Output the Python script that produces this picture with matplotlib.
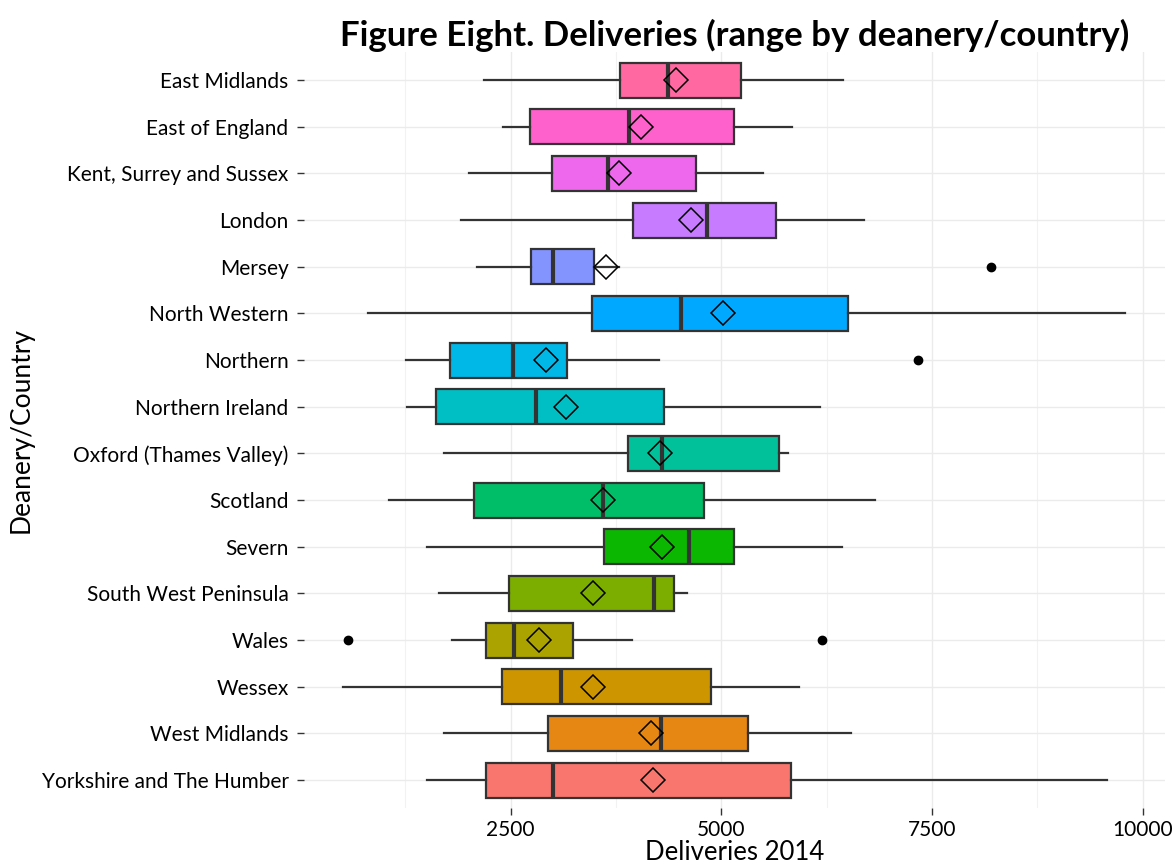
import matplotlib as mpl
import matplotlib.pyplot as plt

mpl.rcParams['font.family'] = ['Lato', 'DejaVu Sans']

# deaneries, top to bottom as drawn
regions = ["East Midlands", "East of England", "Kent, Surrey and Sussex", "London",
           "Mersey", "North Western", "Northern", "Northern Ireland",
           "Oxford (Thames Valley)", "Scotland", "Severn", "South West Peninsula",
           "Wales", "Wessex", "West Midlands", "Yorkshire and The Humber"]

# box statistics (deliveries 2014)
whis_lo = [2190, 2414, 2012, 1913, 2105, 806, 1254, 1267, 1709, 1057, 1511, 1656, 1808, 510, 1709, 1505]
q1 = [3798, 2731, 2994, 3957, 2737, 3469, 1782, 1617, 3897, 2065, 3607, 2480, 2203, 2401, 2948, 2210]
median = [4372, 3904, 3660, 4833, 3008, 4517, 2526, 2797, 4299, 3594, 4616, 4200, 2540, 3100, 4280, 3001]
q3 = [5229, 5156, 4701, 5644, 3489, 6507, 3172, 4319, 5683, 4800, 5156, 4438, 3245, 4879, 5321, 5822]
whis_hi = [6448, 5842, 5492, 6692, 3792, 9796, 4266, 6171, 5796, 6824, 6428, 4589, 3937, 5921, 6534, 9579]
mean = [4458, 4042, 3792, 4642, 3627, 5024, 2915, 3159, 4273, 3594, 4299, 3475, 2836, 3475, 4161, 4194]
outliers = [[], [], [], [], [8195], [], [7331], [], [], [], [], [], [575, 6198], [], [], []]

# ggplot hue palette for 16 levels (Yorkshire first -> bottom)
colors = ["#FF68A1", "#FF61CC", "#ED68ED", "#C77CFF", "#8494FF", "#00A9FF", "#00B8E7", "#00BFC4",
          "#00C19A", "#00BE67", "#0CB702", "#7CAE00", "#ABA300", "#CD9600", "#E68613", "#F8766D"]

n = len(regions)
pos = [n - i for i in range(n)]

stats = []
for i in range(n):
    stats.append({'label': regions[i], 'whislo': whis_lo[i], 'q1': q1[i], 'med': median[i],
                  'q3': q3[i], 'whishi': whis_hi[i], 'mean': mean[i], 'fliers': outliers[i]})

fig = plt.figure(figsize=(11.74, 8.66), dpi=100)
ax = fig.add_axes([303.8/1174, 1-808/866, (1164.6-303.8)/1174, (808-52)/866])

grey = "#333333"
bp = ax.bxp(stats, positions=pos, vert=False, widths=0.75, patch_artist=True,
            showmeans=True, showcaps=False,
            boxprops=dict(edgecolor=grey, linewidth=1.6),
            whiskerprops=dict(color=grey, linewidth=1.6),
            medianprops=dict(color=grey, linewidth=3),
            meanprops=dict(marker='D', markerfacecolor='none', markeredgecolor='black',
                           markersize=12, markeredgewidth=1.1),
            flierprops=dict(marker='o', markerfacecolor='black', markeredgecolor='black',
                            markersize=6))
for patch, c in zip(bp['boxes'], colors):
    patch.set_facecolor(c)

# axes and grid
ax.set_xlim(46, 10260)
ax.set_ylim(0.4, n + 0.6)
ax.set_xticks([2500, 5000, 7500, 10000])
ax.set_xticks([1250, 3750, 6250, 8750], minor=True)
ax.set_yticks(pos)
ax.set_yticklabels(regions)
ax.grid(True, which='major', color='#EBEBEB', linewidth=1.0)
ax.grid(True, which='minor', axis='x', color='#F2F2F2', linewidth=0.8)
ax.set_axisbelow(True)
for s in ax.spines.values():
    s.set_visible(False)
ax.tick_params(axis='both', which='major', length=5, width=1, color=grey, labelsize=15,
               labelcolor='black')
ax.tick_params(axis='y', pad=6)
ax.tick_params(axis='x', which='minor', length=0)

ax.set_xlabel("Deliveries 2014", fontsize=18.5, labelpad=0)
ax.set_ylabel("Deanery/Country", fontsize=19, labelpad=6)
ax.set_title("Figure Eight. Deliveries (range by deanery/country)", fontsize=25,
             fontweight='bold', pad=4)

plt.savefig("out.png", dpi=100)
plt.close("all")
